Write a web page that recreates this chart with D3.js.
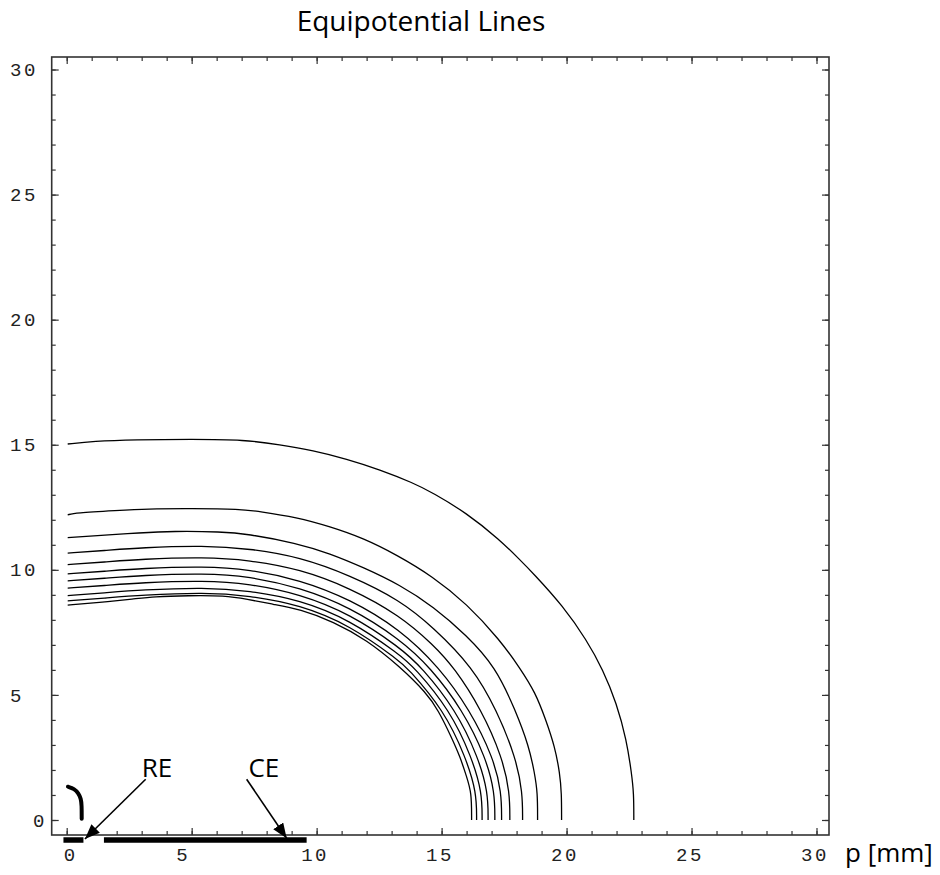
<!DOCTYPE html>
<html>
<head>
<meta charset="utf-8">
<script src="https://cdn.jsdelivr.net/npm/d3@7"></script>
<style>
    body { margin: 0; background: #fff; }
    .tick text { font-family: "Liberation Mono", monospace; font-size: 19px; letter-spacing: 2.5px; fill: #222; }
    .tick line { stroke: #333; stroke-width: 1.2; }
    .title, .label, .axisName { font-family: "Open Sans", sans-serif; fill: #000; }
</style>
</head>
<body>
<div class="wrapper"></div>
<script>
// values, in mm (p along x, z along y)
let majorTicks = [0, 5, 10, 15, 20, 25, 30];
let minorTicks = d3.range(0, 31);

let line1 = [[0.04,15.03],[1.06,15.14],[2.73,15.2],[5.0,15.22],[7.13,15.2],[8.53,15.0],[9.85,14.77],[11.2,14.43],[12.53,14.0],[13.85,13.48],[14.65,13.08],[16.0,12.27],[17.33,11.2],[18.13,10.4],[18.65,9.88],[19.86,8.55],[20.8,7.2],[21.46,6.0],[22.0,4.67],[22.4,3.2],[22.6,1.87],[22.69,1.07],[22.69,0]];
let line2 = [[0.04,12.2],[0.33,12.27],[2.0,12.37],[3.2,12.44],[5.0,12.45],[6.93,12.43],[7.73,12.33],[9.2,12.1],[10.53,11.73],[11.86,11.27],[13.2,10.6],[14.65,9.73],[16.0,8.65],[17.33,7.2],[18.13,6.08],[18.75,5.1],[19.17,4.0],[19.53,2.93],[19.73,1.87],[19.8,1.07],[19.8,0]];
let line3 = [[0.04,11.29],[1.8,11.4],[2.8,11.47],[4.26,11.55],[6.2,11.52],[7.2,11.44],[9.2,11.07],[10.53,10.65],[11.86,10.1],[13.33,9.4],[14.67,8.53],[16.0,7.38],[17.15,6.13],[17.95,4.4],[18.5,2.93],[18.72,1.87],[18.84,1.1],[18.84,0]];
let line4 = [[0.04,10.67],[1.5,10.77],[3,10.89],[5.5,10.97],[7.3,10.85],[9.33,10.51],[11.33,9.78],[13.33,8.79],[14.67,7.7],[16.25,6.1],[17.2,4.4],[17.97,2.5],[18.24,1.1],[18.24,0]];
let line5 = [[0.04,10.21],[1.5,10.31],[3,10.43],[5.5,10.51],[7.3,10.39],[9.33,10.03],[11.33,9.28],[13.33,8.18],[14.67,7.0],[15.5,6.1],[16.6,4.4],[17.43,2.5],[17.73,1.1],[17.73,0]];
let line6 = [[0.04,9.84],[1.5,9.94],[3,10.06],[5.5,10.14],[7.3,10.02],[9.33,9.6],[11.33,8.83],[13.33,7.63],[14.91,6.1],[16.13,4.4],[17.07,2.5],[17.4,1.1],[17.4,0]];
let line7 = [[0.04,9.56],[1.5,9.66],[3,9.78],[5.5,9.86],[7.3,9.74],[9.33,9.29],[11.33,8.51],[13.33,7.23],[14.55,6.1],[15.84,4.4],[16.77,2.5],[17.13,1.1],[17.13,0]];
let line8 = [[0.04,9.27],[1.5,9.37],[3,9.49],[5.5,9.57],[7.3,9.45],[9.33,9.03],[11.33,8.24],[13.33,6.9],[14.21,6.1],[15.57,4.4],[16.47,2.5],[16.86,1.1],[16.86,0]];
let line9 = [[0.04,8.97],[1.5,9.08],[3,9.2],[5.5,9.3],[7.3,9.17],[9.33,8.8],[11.33,8.0],[13.33,6.61],[13.91,6.1],[15.33,4.4],[16.21,2.5],[16.62,1.1],[16.62,0]];
let line10 = [[0.04,8.76],[1.5,8.87],[3,8.99],[5.5,9.1],[7.3,8.97],[9.33,8.6],[11.33,7.79],[13.33,6.35],[13.61,6.1],[15.09,4.4],[15.97,2.5],[16.4,1.1],[16.4,0]];
let line11 = [[0.04,8.59],[1.27,8.69],[2.73,8.84],[3.47,8.93],[4.87,8.97],[6.33,8.97],[7.2,8.83],[8.27,8.62],[9.33,8.43],[10.67,7.93],[12.0,7.2],[13.33,6.13],[14.4,5.07],[14.86,4.4],[15.4,3.3],[15.75,2.5],[16.0,1.73],[16.2,1.1],[16.2,0]];
let contours = [line1, line2, line3, line4, line5, line6, line7, line8, line9, line10, line11];

// electrodes under the axis and the small mark near the origin
let electrodes = [{name: "RE", from: -0.13, to: 0.67}, {name: "CE", from: 1.49, to: 9.6}];
let electrodeLevel = -0.8;
let hook = [[0.05,1.33],[0.3,1.25],[0.47,1.07],[0.57,0.85],[0.6,0.6],[0.6,0.05]];
let arrows = [
    {text: "RE", tx: 3.0, ty: 1.72, x1: 3.16, y1: 1.63, x2: 0.73, y2: -0.76},
    {text: "CE", tx: 7.27, ty: 1.72, x1: 7.2, y1: 1.63, x2: 8.8, y2: -0.73}
];

let width = 940;
let height = 875;
let plotLeft = 51.7, plotRight = 829, plotTop = 57, plotBottom = 835;

let x = d3.scaleLinear().domain([-0.6, 30.5]).range([plotLeft, plotRight]);
let y = d3.scaleLinear().domain([-0.6, 30.5]).range([plotBottom, plotTop]);

let svg = d3.select(".wrapper")
    .append("svg")
    .attr("width", width)
    .attr("height", height);

svg.append("defs")
    .append("marker")
    .attr("id", "head")
    .attr("markerUnits", "userSpaceOnUse")
    .attr("markerWidth", 16)
    .attr("markerHeight", 12)
    .attr("refX", 15)
    .attr("refY", 6)
    .attr("orient", "auto")
    .append("path")
    .attr("d", "M0,0 L15,6 L0,12 Z")
    .attr("fill", "#000");

svg.append("text")
    .classed("title", true)
    .attr("x", 421)
    .attr("y", 31)
    .attr("text-anchor", "middle")
    .style("font-size", "28px")
    .text("Equipotential Lines");

// tick marks on all four sides, pointing inward
function ticks(axis, values, size, transform, labelled) {
    let a = axis.tickValues(values).tickSizeInner(-size).tickSizeOuter(0);
    if (!labelled) a.tickFormat("");
    let g = svg.append("g").attr("transform", transform).call(a);
    g.select(".domain").remove();
    return g;
}

ticks(d3.axisBottom(x), minorTicks, 4, "translate(0," + plotBottom + ")", false);
ticks(d3.axisTop(x), minorTicks, 4, "translate(0," + plotTop + ")", false);
ticks(d3.axisTop(x), majorTicks, 7, "translate(0," + plotTop + ")", false);
ticks(d3.axisLeft(y), minorTicks, 4, "translate(" + plotLeft + ",0)", false);
ticks(d3.axisRight(y), minorTicks, 4, "translate(" + plotRight + ",0)", false);
ticks(d3.axisRight(y), majorTicks, 7, "translate(" + plotRight + ",0)", false);

let xAxis = ticks(d3.axisBottom(x).tickPadding(13), majorTicks, 7, "translate(0," + plotBottom + ")", true);
xAxis.selectAll("text")
    .attr("text-anchor", "start")
    .attr("x", function (d) {return d === 0 ? -3.5 : -16});

let yAxis = ticks(d3.axisLeft(y), majorTicks, 7, "translate(" + plotLeft + ",0)", true);
yAxis.selectAll("text")
    .attr("text-anchor", "start")
    .attr("x", function (d) {return (d === 0 ? 33 : 10) - plotLeft});

svg.append("rect")
    .attr("x", plotLeft)
    .attr("y", plotTop)
    .attr("width", plotRight - plotLeft)
    .attr("height", plotBottom - plotTop)
    .attr("fill", "none")
    .attr("stroke", "#333")
    .attr("stroke-width", 1.6);

let line = d3.line()
    .x(function (d) {return x(d[0])})
    .y(function (d) {return y(d[1])})
    .curve(d3.curveBasis);

svg.selectAll(".contour")
    .data(contours)
    .enter()
    .append("path")
    .classed("contour", true)
    .attr("d", line)
    .attr("fill", "none")
    .attr("stroke", "#000")
    .attr("stroke-width", 1.3);

svg.append("path")
    .attr("d", line(hook))
    .attr("fill", "none")
    .attr("stroke", "#000")
    .attr("stroke-width", 4)
    .attr("stroke-linecap", "round");

svg.selectAll(".electrode")
    .data(electrodes)
    .enter()
    .append("line")
    .classed("electrode", true)
    .attr("x1", function (d) {return x(d.from)})
    .attr("x2", function (d) {return x(d.to)})
    .attr("y1", y(electrodeLevel))
    .attr("y2", y(electrodeLevel))
    .attr("stroke", "#000")
    .attr("stroke-width", 5.5);

svg.selectAll(".arrow")
    .data(arrows)
    .enter()
    .append("line")
    .classed("arrow", true)
    .attr("x1", function (d) {return x(d.x1)})
    .attr("y1", function (d) {return y(d.y1)})
    .attr("x2", function (d) {return x(d.x2)})
    .attr("y2", function (d) {return y(d.y2)})
    .attr("stroke", "#000")
    .attr("stroke-width", 1.6)
    .attr("marker-end", "url(#head)");

svg.selectAll(".label")
    .data(arrows)
    .enter()
    .append("text")
    .classed("label", true)
    .attr("x", function (d) {return x(d.tx)})
    .attr("y", function (d) {return y(d.ty)})
    .style("font-size", "26px")
    .text(function (d) {return d.text});

svg.append("text")
    .classed("axisName", true)
    .attr("x", 845)
    .attr("y", 862)
    .style("font-size", "26px")
    .text("p [mm]");
</script>
</body>
</html>
